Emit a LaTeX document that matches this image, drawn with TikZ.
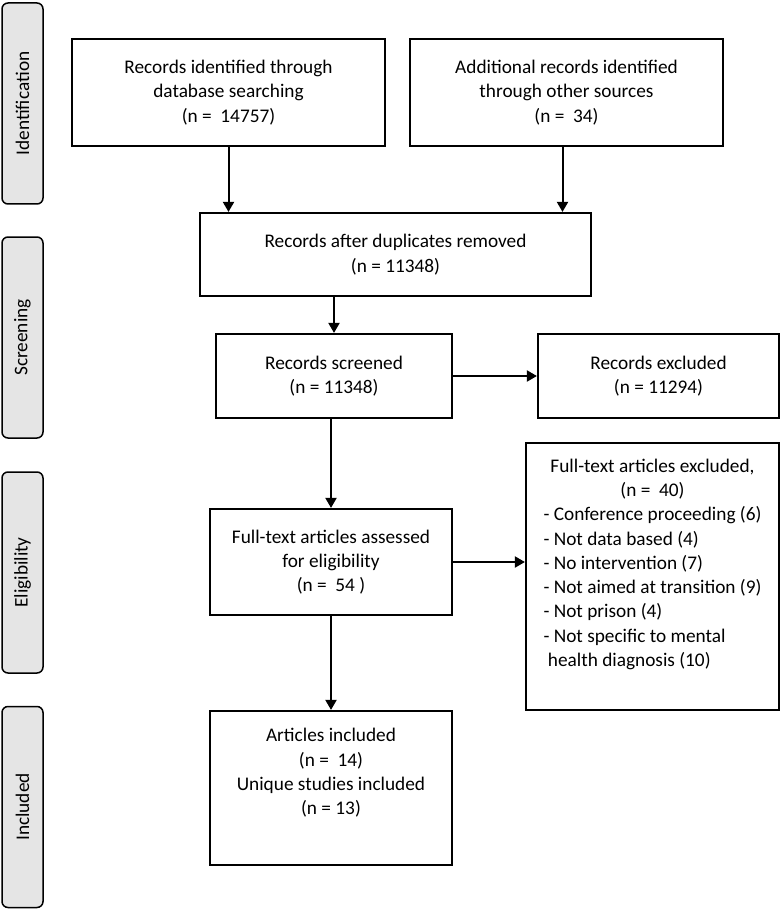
\documentclass[tikz,border=0pt]{standalone}
\usepackage{fontspec}
\setmainfont{Carlito}
\usetikzlibrary{arrows.meta}

\begin{document}
\begin{tikzpicture}[x=1pt,y=-1pt,
    font=\fontsize{19.3}{24.3}\selectfont,
    box/.style={rectangle,draw,line width=2.2pt,align=center,inner sep=0pt},
    phase/.style={rectangle,draw,line width=1.5pt,rounded corners=6pt,fill=black!10,
        rotate=90,minimum width=201pt,minimum height=41pt,inner sep=0pt},
    arr/.style={-{Triangle[length=10pt,width=11pt]},line width=2pt}]
    \useasboundingbox (0,0) rectangle (782,909);

    % phases
    \node (ident) at (22.5,103.5) [phase] {Identification};
    \node (screen) at (22.5,337.5) [phase] {Screening};
    \node (elig) at (22.5,572.5) [phase] {Eligibility};
    \node (incl) at (22.5,807) [phase] {Included};

    % nodes
    \node (db) at (228.5,92.5) [box,minimum width=313pt,minimum height=107pt]
        {Records identified through\\database searching\\(n = \ 14757)};
    \node (other) at (566.5,92.5) [box,minimum width=313pt,minimum height=107pt]
        {Additional records identified\\through other sources\\(n = \ 34)};
    \node (dup) at (395.5,254.5) [box,minimum width=391pt,minimum height=83pt]
        {Records after duplicates removed\\(n = 11348)};
    \node (screened) at (334,376) [box,minimum width=236pt,minimum height=84pt]
        {Records screened\\(n = 11348)};
    \node (recexcl) at (658.5,376) [box,minimum width=241pt,minimum height=84pt]
        {Records excluded\\(n = 11294)};
    \node (fulltext) at (331,562) [box,minimum width=242pt,minimum height=106pt]
        {Full-text articles assessed\\for eligibility\\(n = \ 54 )};
    \node (ftexcl) at (652.5,576.5) [box,minimum width=253pt,minimum height=267pt]
        {\begin{tabular}{@{}l@{}}
        \multicolumn{1}{@{}c@{}}{Full-text articles excluded,}\\
        \multicolumn{1}{@{}c@{}}{(n = \ 40)}\\
        - Conference proceeding (6)\\
        - Not data based (4)\\
        - No intervention (7)\\
        - Not aimed at transition (9)\\
        - Not prison (4)\\
        - Not specific to mental\\
        \ health diagnosis (10)\\[24pt]
        \end{tabular}};
    \node (included) at (331,788) [box,minimum width=242pt,minimum height=154pt]
        {\begin{tabular}{@{}c@{}}
        Articles included\\
        (n = \ 14)\\
        Unique studies included\\
        (n = 13)\\[29pt]
        \end{tabular}};

    % paths
    \draw[arr] (db.south) -- (db.south |- dup.north); % db -> dup
    \draw[arr] ([xshift=-4pt]other.south) -- ([xshift=-4pt]other.south |- dup.north); % other -> dup
    \draw[arr] (dup.south -| screened.north) -- (screened.north); % dup -> screened
    \draw[arr] (screened.east) -- (screened.east -| recexcl.west); % screened -> excluded
    \draw[arr] (screened.south -| fulltext.north) -- (fulltext.north); % screened -> full text
    \draw[arr] (fulltext.east) -- (fulltext.east -| ftexcl.west); % full text -> excluded
    \draw[arr] (fulltext.south) -- (included.north); % full text -> included

\end{tikzpicture}
\end{document}
